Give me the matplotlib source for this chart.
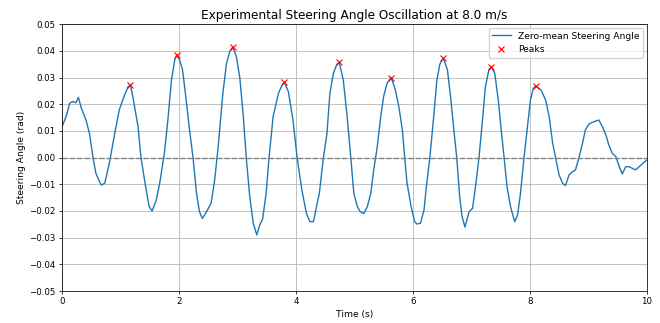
import matplotlib
matplotlib.use('Agg')
import numpy as np
import matplotlib.pyplot as plt

# ── Data ─────────────────────────────────────────────────────────────────────
time_s = [0.00, 0.07, 0.13, 0.18, 0.24, 0.28, 0.33, 0.41, 0.47, 0.53,
          0.58, 0.67, 0.73, 0.81, 0.90, 0.98, 1.07, 1.13, 1.17, 1.21,
          1.30, 1.35, 1.43, 1.49, 1.54, 1.61, 1.67, 1.75, 1.81, 1.87,
          1.93, 1.96, 2.01, 2.06, 2.11, 2.18, 2.24, 2.30, 2.35, 2.40,
          2.47, 2.55, 2.61, 2.67, 2.75, 2.81, 2.87, 2.92, 2.98, 3.04,
          3.10, 3.15, 3.21, 3.27, 3.33, 3.38, 3.43, 3.49, 3.54, 3.61,
          3.70, 3.75, 3.80, 3.87, 3.95, 4.02, 4.10, 4.18, 4.24, 4.30,
          4.35, 4.40, 4.47, 4.53, 4.58, 4.64, 4.70, 4.74, 4.81, 4.87,
          4.93, 4.99, 5.05, 5.10, 5.16, 5.22, 5.28, 5.33, 5.39, 5.45,
          5.50, 5.56, 5.63, 5.70, 5.76, 5.82, 5.86, 5.90, 5.97, 6.03,
          6.07, 6.13, 6.19, 6.23, 6.29, 6.35, 6.41, 6.46, 6.52, 6.59,
          6.65, 6.70, 6.75, 6.80, 6.84, 6.89, 6.96, 7.02, 7.07, 7.13,
          7.19, 7.24, 7.30, 7.34, 7.40, 7.46, 7.51, 7.56, 7.61, 7.67,
          7.74, 7.79, 7.84, 7.90, 7.96, 8.01, 8.06, 8.10, 8.19, 8.27,
          8.33, 8.39, 8.44, 8.50, 8.56, 8.61, 8.67, 8.73, 8.78, 8.84,
          8.90, 8.95, 9.01, 9.10, 9.18, 9.24, 9.30, 9.35, 9.41, 9.47,
          9.53, 9.58, 9.64, 9.70, 9.75, 9.81, 9.87, 9.94, 10.00]

angle_rad = [0.0116, 0.0154, 0.0204, 0.0210, 0.0206, 0.0226, 0.0185, 0.0141, 0.0090, 0.0000,
             -0.0060, -0.0103, -0.0096, -0.0020, 0.0090, 0.0180, 0.0235, 0.0266, 0.0272, 0.0229,
             0.0116, 0.0000, -0.0110, -0.0184, -0.0200, -0.0160, -0.0096, 0.0016, 0.0141, 0.0290,
             0.0369, 0.0384, 0.0366, 0.0330, 0.0240, 0.0104, 0.0000, -0.0134, -0.0203, -0.0228,
             -0.0203, -0.0170, -0.0084, 0.0040, 0.0240, 0.0350, 0.0400, 0.0414, 0.0380, 0.0300,
             0.0154, 0.0000, -0.0146, -0.0246, -0.0290, -0.0253, -0.0230, -0.0134, 0.0000, 0.0154,
             0.0240, 0.0266, 0.0283, 0.0248, 0.0140, 0.0000, -0.0120, -0.0210, -0.0240, -0.0240,
             -0.0184, -0.0134, 0.0000, 0.0090, 0.0240, 0.0316, 0.0350, 0.0357, 0.0290, 0.0166,
             0.0020, -0.0134, -0.0184, -0.0203, -0.0210, -0.0184, -0.0134, -0.0046, 0.0040, 0.0154,
             0.0230, 0.0280, 0.0300, 0.0254, 0.0190, 0.0104, 0.0000, -0.0096, -0.0184, -0.0240,
             -0.0249, -0.0246, -0.0196, -0.0110, 0.0000, 0.0140, 0.0290, 0.0350, 0.0373, 0.0330,
             0.0216, 0.0104, 0.0000, -0.0146, -0.0220, -0.0260, -0.0203, -0.0190, -0.0110, 0.0000,
             0.0140, 0.0266, 0.0330, 0.0341, 0.0316, 0.0216, 0.0104, 0.0000, -0.0110, -0.0184,
             -0.0240, -0.0215, -0.0134, 0.0000, 0.0116, 0.0216, 0.0260, 0.0269, 0.0254, 0.0216,
             0.0154, 0.0054, 0.0000, -0.0065, -0.0096, -0.0105, -0.0065, -0.0053, -0.0046, 0.0000,
             0.0054, 0.0104, 0.0126, 0.0135, 0.0141, 0.0116, 0.0085, 0.0048, 0.0016, 0.0004,
             -0.0034, -0.0061, -0.0034, -0.0034, -0.0040, -0.0046, -0.0034, -0.0020, -0.0009]

peak_t = [1.17, 1.96, 2.92, 3.80, 4.74, 5.63, 6.52, 7.34, 8.10]
peak_y = [0.0272, 0.0384, 0.0414, 0.0283, 0.0357, 0.0300, 0.0373, 0.0341, 0.0269]

speed = 8.0

# ── Plot ─────────────────────────────────────────────────────────────────────
fig = plt.figure(figsize=(6.6, 3.23), dpi=100)
ax = fig.add_axes([0.094, 0.099, 0.886, 0.826])

ax.plot(time_s, angle_rad, color='#1f77b4', linewidth=1.0,
        label='Zero-mean Steering Angle')
ax.plot(peak_t, peak_y, 'x', color='red', markersize=4, markeredgewidth=0.8,
        label='Peaks')
ax.axhline(0, color='gray', linestyle='--', linewidth=1.0)

ax.set_xlim(0, 10)
ax.set_ylim(-0.05, 0.05)
ax.set_yticks(np.arange(-0.05, 0.051, 0.01))
ax.set_xticks([0, 2, 4, 6, 8, 10])
ax.tick_params(labelsize=6.2, length=2.3, width=0.55, pad=2.3)
ax.grid(True, color='#b0b0b0', linewidth=0.55)
for sp in ax.spines.values():
    sp.set_linewidth(0.55)

ax.set_title(f'Experimental Steering Angle Oscillation at {speed} m/s',
             fontsize=8.7, pad=4)
ax.set_xlabel('Time (s)', fontsize=6.6, labelpad=2.5)
ax.set_ylabel('Steering Angle (rad)', fontsize=6.6, labelpad=2.5)
ax.legend(loc='upper right', fontsize=6.6, borderaxespad=0.4)

fig.savefig('out.png', dpi=100)
